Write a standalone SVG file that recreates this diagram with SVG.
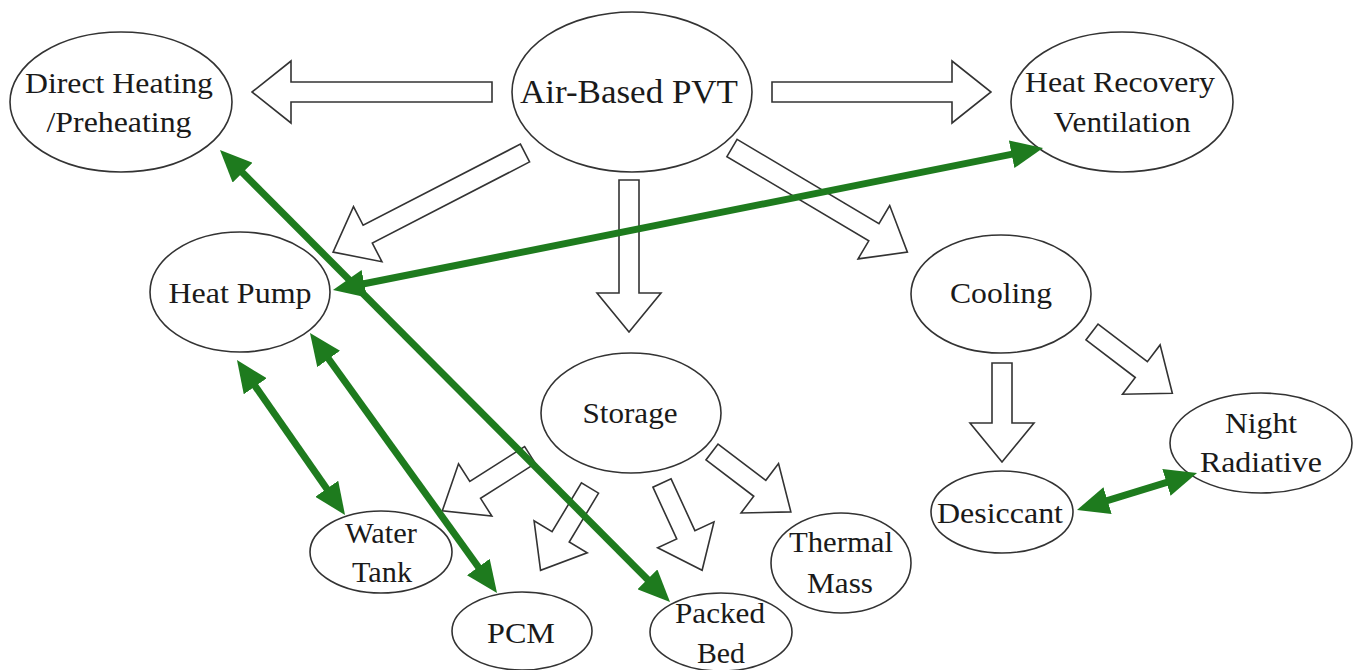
<svg xmlns="http://www.w3.org/2000/svg" width="1356" height="670" viewBox="0 0 1356 670">
<style>
.node ellipse{fill:#fff;stroke:#333;stroke-width:1.6}
.node text{font-family:"Liberation Serif","DejaVu Serif",serif;font-size:30px;fill:#1a1a1a;text-anchor:middle}
.blk{fill:#fff;stroke:#333;stroke-width:1.6;stroke-linejoin:miter}
.grn{stroke:#1e7b1e;stroke-width:7;fill:none;marker-start:url(#gh);marker-end:url(#gh)}
</style>
<defs>
<marker id="gh" markerUnits="userSpaceOnUse" markerWidth="32" markerHeight="28" viewBox="0 0 32 28" refX="8" refY="14" orient="auto-start-reverse">
<path d="M0,0 L32,14 L0,28 z" fill="#1e7b1e"/>
</marker>
</defs>
<rect width="1356" height="670" fill="#fff"/>
<g id="air-pvt" class="node"><ellipse cx="632" cy="92" rx="120" ry="80"/><text x="629" y="103" style="font-size:34px" textLength="218" lengthAdjust="spacingAndGlyphs">Air-Based PVT</text></g>
<g id="direct-heating" class="node"><ellipse cx="121" cy="102" rx="111" ry="70"/><text x="119" y="93" textLength="188" lengthAdjust="spacingAndGlyphs">Direct Heating</text><text x="119" y="132" textLength="145" lengthAdjust="spacingAndGlyphs">/Preheating</text></g>
<g id="heat-recovery" class="node"><ellipse cx="1122" cy="102" rx="111" ry="70"/><text x="1120" y="92" textLength="190" lengthAdjust="spacingAndGlyphs">Heat Recovery</text><text x="1122" y="132" textLength="137" lengthAdjust="spacingAndGlyphs">Ventilation</text></g>
<g id="heat-pump" class="node"><ellipse cx="240" cy="292" rx="90" ry="60"/><text x="240" y="303" textLength="143" lengthAdjust="spacingAndGlyphs">Heat Pump</text></g>
<g id="storage" class="node"><ellipse cx="631" cy="413" rx="90" ry="60"/><text x="630" y="423" textLength="95" lengthAdjust="spacingAndGlyphs">Storage</text></g>
<g id="cooling" class="node"><ellipse cx="1001" cy="294" rx="90" ry="59"/><text x="1001" y="303" textLength="102" lengthAdjust="spacingAndGlyphs">Cooling</text></g>
<g id="water-tank" class="node"><ellipse cx="381" cy="552" rx="71" ry="41"/><text x="381" y="543" textLength="72" lengthAdjust="spacingAndGlyphs">Water</text><text x="382" y="582" textLength="60" lengthAdjust="spacingAndGlyphs">Tank</text></g>
<g id="pcm" class="node"><ellipse cx="522" cy="631" rx="70" ry="39"/><text x="521" y="643" textLength="68" lengthAdjust="spacingAndGlyphs">PCM</text></g>
<g id="packed-bed" class="node"><ellipse cx="721" cy="632" rx="71" ry="39"/><text x="720" y="623" textLength="90" lengthAdjust="spacingAndGlyphs">Packed</text><text x="721" y="663" textLength="48" lengthAdjust="spacingAndGlyphs">Bed</text></g>
<g id="thermal-mass" class="node"><ellipse cx="841" cy="563" rx="70" ry="50"/><text x="841" y="552" textLength="104" lengthAdjust="spacingAndGlyphs">Thermal</text><text x="840" y="593" textLength="66" lengthAdjust="spacingAndGlyphs">Mass</text></g>
<g id="desiccant" class="node"><ellipse cx="1002" cy="512" rx="71" ry="41"/><text x="1000" y="523" textLength="126" lengthAdjust="spacingAndGlyphs">Desiccant</text></g>
<g id="night-radiative" class="node"><ellipse cx="1261" cy="443" rx="91" ry="50"/><text x="1261" y="433" textLength="72" lengthAdjust="spacingAndGlyphs">Night</text><text x="1261" y="472" textLength="122" lengthAdjust="spacingAndGlyphs">Radiative</text></g>
<g id="connectors">
<polygon class="blk" transform="translate(492,92) rotate(180)" points="0,-10 201,-10 201,-31 240,0 201,31 201,10 0,10"/>
<polygon class="blk" transform="translate(772,92)" points="0,-10 180,-10 180,-31 219,0 180,31 180,10 0,10"/>
<polygon class="blk" transform="translate(629,180) rotate(90)" points="0,-10 113,-10 113,-32 152,0 113,32 113,10 0,10"/>
<polygon class="blk" transform="translate(525,153) rotate(152.7)" points="0,-10 177,-10 177,-31 216,0 177,31 177,10 0,10"/>
<polygon class="blk" transform="translate(732,148) rotate(30.7)" points="0,-10 165,-10 165,-31 204,0 165,31 165,10 0,10"/>
<polygon class="blk" transform="translate(1002,363) rotate(90)" points="0,-10 60,-10 60,-32 99,0 60,32 60,10 0,10"/>
<polygon class="blk" transform="translate(1092,332) rotate(37.3)" points="0,-10 62,-10 62,-31 101,0 62,31 62,10 0,10"/>
<polygon class="blk" transform="translate(530,455) rotate(147.5)" points="0,-10 65,-10 65,-31 104,0 65,31 65,10 0,10"/>
<polygon class="blk" transform="translate(590,488) rotate(121)" points="0,-10 57,-10 57,-31 96,0 57,31 57,10 0,10"/>
<polygon class="blk" transform="translate(662,483) rotate(65.3)" points="0,-10 57,-10 57,-31 96,0 57,31 57,10 0,10"/>
<polygon class="blk" transform="translate(712,452) rotate(37.2)" points="0,-10 60,-10 60,-31 99,0 60,31 60,10 0,10"/>
<line class="grn" x1="236.9" y1="167" x2="653.1" y2="585"/>
<line class="grn" x1="356.5" y1="285.3" x2="1019.5" y2="152.7"/>
<line class="grn" x1="250.7" y1="379.7" x2="331.3" y2="495.3"/>
<line class="grn" x1="324" y1="352.5" x2="483" y2="573.5"/>
<line class="grn" x1="1099.9" y1="502.9" x2="1174.1" y2="480.1"/>
</g>
</svg>
